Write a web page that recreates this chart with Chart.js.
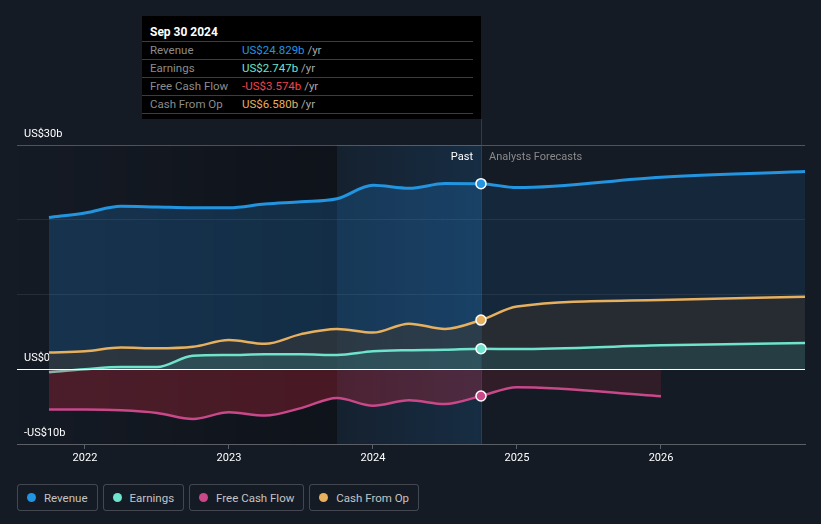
<!DOCTYPE html>
<html>
<head>
<meta charset="utf-8">
<script src="https://cdn.jsdelivr.net/npm/chart.js@4.4.1/dist/chart.umd.min.js"></script>
<style>
    html, body {
        margin: 0;
        padding: 0;
        background: #151b25;
        font-family: Roboto, "Noto Sans", sans-serif;
    }

    #wrap {
        position: relative;
        width: 821px;
        height: 524px;
        overflow: hidden;
    }

    #chart {
        position: absolute;
        left: 0;
        top: 0;
    }

    #tip {
        position: absolute;
        left: 142px;
        top: 16px;
        width: 339px;
        height: 103px;
        background: #000;
    }

    #tip .title {
        color: #fff;
        font-weight: bold;
        font-size: 12px;
        line-height: 14px;
        padding: 9px 8px 2px 8px;
    }

    #tip .row {
        display: flex;
        height: 17px;
        line-height: 17px;
        font-size: 11.5px;
        border-top: 1px solid #3d3d3d;
        margin-right: 8px;
        padding-left: 8px;
    }

    #tip .row:last-child {
        border-bottom: 1px solid #3d3d3d;
    }

    #tip .label {
        width: 92px;
        color: #8c8c8c;
    }

    #tip .unit {
        color: #a8a8a8;
    }

    #legend {
        position: absolute;
        left: 17px;
        top: 484px;
        display: flex;
        gap: 5px;
    }

    .item {
        display: flex;
        align-items: center;
        height: 25px;
        border: 1px solid rgba(255, 255, 255, 0.2);
        border-radius: 3px;
        padding: 0 9px 0 9px;
        font-size: 11.5px;
        color: #c4c4c4;
    }

    .dot {
        width: 9px;
        height: 9px;
        border-radius: 50%;
        margin-right: 8px;
    }
</style>
</head>
<body>
<div id="wrap">
    <canvas id="chart" width="821" height="470"></canvas>
    <div id="tip"></div>
    <div id="legend"></div>
</div>

<script>
// quarter ends (decimal years), past TTM values then analyst forecasts
const pastDates = [2021.75, 2022.0, 2022.25, 2022.5, 2022.75, 2023.0, 2023.25, 2023.5, 2023.75, 2024.0, 2024.25, 2024.5, 2024.75];
const forecastDates = [2025.0, 2026.0, 2027.0];

const revenuePast = [20.3, 20.9, 21.8, 21.7, 21.6, 21.6, 22.1, 22.4, 22.8, 24.6, 24.2, 24.85, 24.829];
const revenueForecast = [24.3, 25.7, 26.45];

const earningsPast = [-0.4, 0.0, 0.3, 0.3, 1.8, 1.9, 2.0, 2.0, 1.9, 2.4, 2.55, 2.6, 2.747];
const earningsForecast = [2.7, 3.2, 3.5];

const fcfPast = [-5.4, -5.4, -5.5, -5.85, -6.65, -5.75, -6.2, -5.2, -3.85, -4.87, -4.15, -4.65, -3.574];
const fcfForecast = [-2.4, -3.6];

const cfoPast = [2.25, 2.4, 2.9, 2.8, 3.0, 3.9, 3.4, 4.7, 5.4, 4.9, 6.1, 5.4, 6.58];
const cfoForecast = [8.4, 9.27, 9.7];

const seriesNames = ["Revenue", "Earnings", "Free Cash Flow", "Cash From Op"];
const tickYears = [2022, 2023, 2024, 2025, 2026];
const tipTitle = "Sep 30 2024";

const pastEnd = 2024.75;
const bandStart = 2023.75;

const colors = {
    revenue: "#2394df",
    earnings: "#6fe3cb",
    fcf: "#c8488a",
    cfo: "#e7b05e"
};

function points(past, forecast) {
    const dates = pastDates.concat(forecastDates);
    return past.concat(forecast).map((v, i) => ({ x: dates[i], y: v }));
}

function segFill(pastColor, futureColor) {
    return {
        backgroundColor: ctx => ctx.p0.parsed.x >= pastEnd ? futureColor : pastColor
    };
}

function markerRadius(ctx) {
    return ctx.raw && ctx.raw.x === pastEnd ? 5 : 0;
}

function lineSet(label, data, color, order, fillPast, fillFuture, width) {
    return {
        label: label,
        data: data,
        borderColor: color,
        borderWidth: width,
        backgroundColor: fillFuture,
        fill: "origin",
        segment: segFill(fillPast, fillFuture),
        cubicInterpolationMode: "monotone",
        pointRadius: markerRadius,
        pointHoverRadius: markerRadius,
        pointBackgroundColor: color,
        pointBorderColor: "#ffffff",
        pointBorderWidth: 1.5,
        order: order
    };
}

const overlayPlugin = {
    id: "overlay",
    beforeDraw(chart) {
        const { ctx, chartArea: a, scales: { x } } = chart;
        const x0 = x.getPixelForValue(bandStart);
        const x1 = x.getPixelForValue(pastEnd);

        ctx.save();
        let g = ctx.createLinearGradient(a.left, 0, x0, 0);
        g.addColorStop(0, "rgba(0,0,0,0)");
        g.addColorStop(1, "rgba(0,0,0,0.28)");
        ctx.fillStyle = g;
        ctx.fillRect(a.left, a.top, x0 - a.left, a.bottom - a.top);

        g = ctx.createLinearGradient(x0, 0, x1, 0);
        g.addColorStop(0, "rgba(33,150,243,0.05)");
        g.addColorStop(1, "rgba(33,150,243,0.15)");
        ctx.fillStyle = g;
        ctx.fillRect(x0, a.top, x1 - x0, a.bottom - a.top);
        ctx.restore();
    },
    beforeDatasetsDraw(chart) {
        const { ctx, chartArea: a, scales: { x } } = chart;
        const xp = Math.round(x.getPixelForValue(pastEnd)) + 0.5;
        ctx.save();
        ctx.strokeStyle = "rgba(40,90,130,0.6)";
        ctx.lineWidth = 1;
        ctx.beginPath();
        ctx.moveTo(xp, 119);
        ctx.lineTo(xp, a.bottom);
        ctx.stroke();
        ctx.restore();
    },
    afterDatasetsDraw(chart) {
        const { ctx, chartArea: a, scales: { x, y } } = chart;
        const y0 = Math.round(y.getPixelForValue(0)) + 0.5;
        const xp = x.getPixelForValue(pastEnd);

        ctx.save();
        ctx.strokeStyle = "#ffffff";
        ctx.lineWidth = 1;
        ctx.beginPath();
        ctx.moveTo(a.left, y0);
        ctx.lineTo(a.right, y0);
        ctx.stroke();

        ctx.font = "11px Roboto";
        ctx.textBaseline = "middle";
        ctx.textAlign = "right";
        ctx.fillStyle = "#ffffff";
        ctx.fillText("Past", xp - 8, a.top + 12);
        ctx.textAlign = "left";
        ctx.fillStyle = "#8a8a8a";
        ctx.fillText("Analysts Forecasts", xp + 8, a.top + 12);
        ctx.restore();
    }
};

const ctx = document.getElementById("chart").getContext("2d");

new Chart(ctx, {
    type: "line",
    data: {
        datasets: [
            lineSet(seriesNames[0], points(revenuePast, revenueForecast), colors.revenue, 4,
                "rgba(33,150,243,0.2)", "rgba(33,150,243,0.1)", 3),
            lineSet(seriesNames[1], points(earningsPast, earningsForecast), colors.earnings, 2,
                "rgba(60,150,150,0.24)", "rgba(40,134,138,0.2)", 2.5),
            lineSet(seriesNames[2], points(fcfPast, fcfForecast), colors.fcf, 1,
                "rgba(220,40,60,0.28)", "rgba(220,40,60,0.14)", 2.5),
            lineSet(seriesNames[3], points(cfoPast, cfoForecast), colors.cfo, 3,
                "rgba(60,58,55,0.55)", "rgba(55,50,45,0.55)", 2.5)
        ]
    },
    options: {
        responsive: false,
        animation: false,
        events: [],
        layout: {
            padding: { left: 17, right: 16, top: 145, bottom: 0 }
        },
        plugins: {
            legend: { display: false },
            tooltip: { enabled: false }
        },
        scales: {
            x: {
                type: "linear",
                min: 2021.528,
                max: 2027.0,
                afterBuildTicks: scale => {
                    scale.ticks = tickYears.map(v => ({ value: v }));
                },
                afterFit: scale => {
                    scale.height = 26;
                },
                grid: {
                    drawOnChartArea: false,
                    tickLength: 5,
                    color: "rgba(255,255,255,0.3)"
                },
                border: { color: "rgba(255,255,255,0.3)" },
                ticks: {
                    color: "#ffffff",
                    font: { family: "Roboto", size: 11 },
                    padding: 3,
                    maxRotation: 0,
                    callback: v => String(v)
                }
            },
            y: {
                min: -10,
                max: 30,
                afterFit: scale => {
                    scale.width = 0;
                },
                grid: {
                    drawTicks: false,
                    color: c => {
                        const v = c.tick.value;
                        if (v === 0 || v === -10) return "rgba(0,0,0,0)";
                        if (v === 30) return "rgba(255,255,255,0.25)";
                        return "rgba(255,255,255,0.08)";
                    }
                },
                border: { display: false },
                ticks: {
                    stepSize: 10,
                    mirror: true,
                    padding: 7,
                    labelOffset: -11,
                    color: "#ffffff",
                    font: { family: "Roboto", size: 11 },
                    callback: v => {
                        if (v === 30) return "US$30b";
                        if (v === 0) return "US$0";
                        if (v === -10) return "-US$10b";
                        return "";
                    }
                }
            }
        }
    },
    plugins: [overlayPlugin]
});

// 👉 tooltip box for the last reported quarter
function money(v) {
    const s = "US$" + Math.abs(v).toFixed(3) + "b";
    return v < 0 ? "-" + s : s;
}

const last = pastDates.length - 1;
const tipRows = [
    [seriesNames[0], revenuePast[last], colors.revenue],
    [seriesNames[1], earningsPast[last], colors.earnings],
    [seriesNames[2], fcfPast[last], "#f0434f"],
    [seriesNames[3], cfoPast[last], colors.cfo]
];

const tip = document.getElementById("tip");
tip.innerHTML = `<div class="title">${tipTitle}</div>` + tipRows.map(r => `
    <div class="row">
        <span class="label">${r[0]}</span>
        <span style="color:${r[2]}">${money(r[1])}</span>&nbsp;<span class="unit">/yr</span>
    </div>`).join("");

// 👉 legend chips
const legendColors = [colors.revenue, colors.earnings, colors.fcf, colors.cfo];
const legend = document.getElementById("legend");
seriesNames.forEach((name, i) => {
    const item = document.createElement("div");
    item.className = "item";
    item.innerHTML = `<span class="dot" style="background:${legendColors[i]}"></span>${name}`;
    legend.appendChild(item);
});
</script>
</body>
</html>
